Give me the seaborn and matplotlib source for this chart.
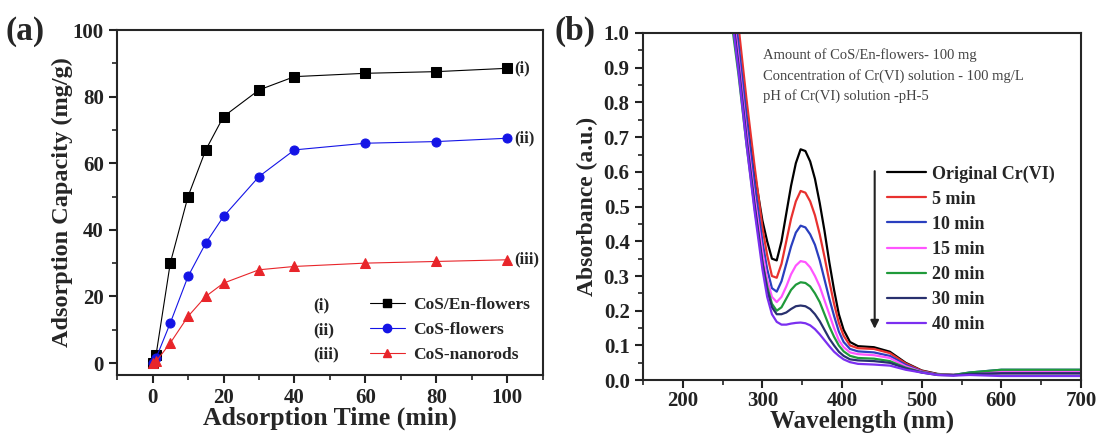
import numpy as np
import pandas as pd
import seaborn as sns
import matplotlib.pyplot as plt
from matplotlib.ticker import MultipleLocator
from matplotlib.lines import Line2D

# (a) adsorption kinetics
time_min = [0, 1, 5, 10, 15, 20, 30, 40, 60, 80, 100]
cap_en_flowers = [0, 2.5, 30, 50, 64, 74, 82, 86, 87, 87.5, 88.5]
cap_flowers = [0, 1.5, 12, 26, 36, 44, 56, 64, 66, 66.5, 67.5]
cap_nanorods = [0, 0.5, 6, 14, 20, 24, 28, 29, 30, 30.5, 31]
series_a = ["CoS/En-flowers", "CoS-flowers", "CoS-nanorods"]
roman = ["(i)", "(ii)", "(iii)"]

# (b) UV-vis spectra
wavelength = [262, 270, 280, 290, 300, 306, 312, 318, 324, 330, 336, 342, 348, 354, 360, 366, 372,
              378, 384, 390, 396, 402, 410, 420, 440, 460, 480, 500, 520, 540, 560, 600, 650, 700]
abs_orig = [1.10, 0.95, 0.76, 0.60, 0.46, 0.40, 0.35, 0.345, 0.40, 0.48, 0.56, 0.625, 0.665, 0.66, 0.63, 0.58, 0.51,
            0.43, 0.34, 0.26, 0.19, 0.145, 0.11, 0.098, 0.095, 0.082, 0.05, 0.028, 0.018, 0.015, 0.018, 0.02, 0.02, 0.02]
abs_5 = [1.18, 1.02, 0.81, 0.62, 0.44, 0.36, 0.30, 0.295, 0.335, 0.40, 0.465, 0.515, 0.545, 0.54, 0.515, 0.475, 0.42,
         0.355, 0.285, 0.22, 0.165, 0.128, 0.10, 0.092, 0.09, 0.078, 0.048, 0.027, 0.017, 0.015, 0.02, 0.025, 0.025, 0.025]
abs_10 = [1.12, 0.97, 0.76, 0.57, 0.40, 0.32, 0.265, 0.255, 0.285, 0.335, 0.385, 0.425, 0.445, 0.44, 0.42, 0.39, 0.345,
          0.29, 0.235, 0.185, 0.14, 0.11, 0.09, 0.083, 0.08, 0.07, 0.044, 0.025, 0.016, 0.015, 0.022, 0.03, 0.03, 0.03]
abs_15 = [1.08, 0.93, 0.72, 0.53, 0.37, 0.29, 0.24, 0.225, 0.24, 0.27, 0.305, 0.33, 0.343, 0.34, 0.325, 0.30, 0.27,
          0.23, 0.19, 0.15, 0.115, 0.095, 0.08, 0.075, 0.072, 0.064, 0.04, 0.024, 0.016, 0.015, 0.02, 0.025, 0.025, 0.025]
abs_20 = [1.02, 0.88, 0.68, 0.50, 0.34, 0.27, 0.22, 0.20, 0.21, 0.235, 0.26, 0.275, 0.282, 0.28, 0.27, 0.25, 0.225,
          0.19, 0.155, 0.125, 0.10, 0.083, 0.07, 0.064, 0.062, 0.055, 0.036, 0.023, 0.016, 0.015, 0.022, 0.03, 0.03, 0.03]
abs_30 = [1.06, 0.91, 0.70, 0.51, 0.34, 0.26, 0.21, 0.19, 0.19, 0.195, 0.205, 0.213, 0.215, 0.213, 0.205, 0.19, 0.17,
          0.145, 0.12, 0.10, 0.082, 0.07, 0.06, 0.057, 0.055, 0.05, 0.034, 0.022, 0.015, 0.014, 0.018, 0.02, 0.02, 0.02]
abs_40 = [1.04, 0.89, 0.68, 0.49, 0.32, 0.24, 0.19, 0.168, 0.16, 0.16, 0.163, 0.165, 0.166, 0.164, 0.158, 0.147, 0.132,
          0.115, 0.098, 0.082, 0.07, 0.06, 0.052, 0.047, 0.045, 0.042, 0.03, 0.022, 0.015, 0.013, 0.015, 0.012, 0.012, 0.012]
labels_b = ["Original Cr(VI)", "5 min", "10 min", "15 min", "20 min", "30 min", "40 min"]
notes_b = ["Amount of CoS/En-flowers- 100 mg",
           "Concentration of Cr(VI) solution - 100 mg/L",
           "pH of Cr(VI) solution -pH-5"]

sns.set_theme(style="ticks")
plt.rcParams['font.family'] = ['Liberation Serif', 'DejaVu Serif']
plt.rcParams['font.weight'] = 'bold'
plt.rcParams['axes.linewidth'] = 1.5
for ax_ in ['xtick', 'ytick']:
    plt.rcParams[ax_ + '.direction'] = 'out'
    plt.rcParams[ax_ + '.major.size'] = 6
    plt.rcParams[ax_ + '.minor.size'] = 3.5
    plt.rcParams[ax_ + '.major.width'] = 1.5
    plt.rcParams[ax_ + '.minor.width'] = 1.2
    plt.rcParams[ax_ + '.color'] = '#222222'

fig = plt.figure(figsize=(10.99, 4.38), dpi=100)
ax1 = fig.add_axes([0.1065, 0.1438, 0.3875, 0.7877])
ax2 = fig.add_axes([0.585, 0.132, 0.3986, 0.7927])

# ---- panel (a)
df_a = pd.DataFrame({"t": time_min * 3,
                     "q": cap_en_flowers + cap_flowers + cap_nanorods,
                     "s": sum([[s] * len(time_min) for s in series_a], [])})
colors_a = ["black", "#1414e6", "#e8252a"]
markers_a = ["s", "o", "^"]
for s, c, m in zip(series_a, colors_a, markers_a):
    d = df_a[df_a.s == s]
    sns.lineplot(data=d, x="t", y="q", ax=ax1, color=c, lw=0.8, marker=m, markersize=6.5,
                 markeredgecolor=c, estimator=None, sort=False)
ends = [cap_en_flowers[-1], cap_flowers[-1], cap_nanorods[-1]]
for r, yv in zip(roman, ends):
    ax1.text(time_min[-1] + 2, yv, r, fontsize=12, fontweight='bold', va='center', ha='left')

ax1.set_xlim(-10, 110)
ax1.set_ylim(-3.6, 100)
ax1.xaxis.set_major_locator(MultipleLocator(20))
ax1.xaxis.set_minor_locator(MultipleLocator(10))
ax1.yaxis.set_major_locator(MultipleLocator(20))
ax1.yaxis.set_minor_locator(MultipleLocator(10))
ax1.tick_params(labelsize=15)
for lab in ax1.get_xticklabels() + ax1.get_yticklabels():
    lab.set_fontweight('bold')
ax1.set_xlabel("Adsorption Time (min)", fontsize=18.5, fontweight='bold', labelpad=-1)
ax1.set_ylabel("Adsorption Capacity (mg/g)", fontsize=17.5, fontweight='bold', labelpad=0)

handles_a = [Line2D([], [], color=c, lw=0.8, marker=m, markersize=6) for c, m in zip(colors_a, markers_a)]
leg1 = ax1.legend(handles_a, series_a, loc='lower right', bbox_to_anchor=(0.995, 0.005), frameon=False,
                  prop={'size': 12.5, 'weight': 'bold'}, handlelength=2.0, handletextpad=0.5,
                  labelspacing=0.5, borderaxespad=0.2)
fig.canvas.draw()
for r, t in zip(roman, leg1.get_texts()):
    bb = t.get_window_extent().transformed(ax1.transAxes.inverted())
    ax1.text(0.46, (bb.y0 + bb.y1) / 2, r, transform=ax1.transAxes, fontsize=12.5,
             fontweight='bold', va='center', ha='left')

# ---- panel (b)
curves = [abs_orig, abs_5, abs_10, abs_15, abs_20, abs_30, abs_40]
colors_b = ["black", "#e8312f", "#2a3fbf", "#ff55ff", "#1f9a3a", "#28306e", "#7b2ff0"]
for lab, yv, c in zip(labels_b, curves, colors_b):
    sns.lineplot(x=wavelength, y=yv, ax=ax2, color=c, lw=1.6, label=lab, estimator=None, sort=False)

ax2.set_xlim(150, 700)
ax2.set_ylim(0, 1.0)
ax2.xaxis.set_major_locator(MultipleLocator(100))
ax2.xaxis.set_minor_locator(MultipleLocator(50))
ax2.yaxis.set_major_locator(MultipleLocator(0.1))
ax2.yaxis.set_minor_locator(MultipleLocator(0.05))
ax2.yaxis.set_major_formatter(plt.FormatStrFormatter('%.1f'))
ax2.tick_params(labelsize=15)
ax2.tick_params(axis='x', pad=2)
for lab in ax2.get_xticklabels() + ax2.get_yticklabels():
    lab.set_fontweight('bold')
ax2.set_xlabel("Wavelength (nm)", fontsize=18, fontweight='bold', labelpad=-1)
ax2.set_ylabel("Absorbance (a.u.)", fontsize=17, fontweight='bold', labelpad=4)

ax2.legend(loc='upper left', bbox_to_anchor=(0.54, 0.64), frameon=False,
           prop={'size': 13, 'weight': 'bold'}, handlelength=2.2, handletextpad=0.3,
           labelspacing=0.45, borderaxespad=0)
ax2.annotate("", xy=(441, 0.14), xytext=(441, 0.61),
             arrowprops=dict(arrowstyle='-|>', color='#222222', lw=1.5, mutation_scale=12))
for i, n in enumerate(notes_b):
    ax2.text(0.275, 0.935 - i * 0.058, n, transform=ax2.transAxes, fontsize=10.5,
             fontweight='normal', color='#444444', va='center', ha='left')

fig.text(0.005, 0.91, "(a)", fontsize=24, fontweight='bold')
fig.text(0.505, 0.91, "(b)", fontsize=24, fontweight='bold')

fig.savefig("out.png", dpi=100)
